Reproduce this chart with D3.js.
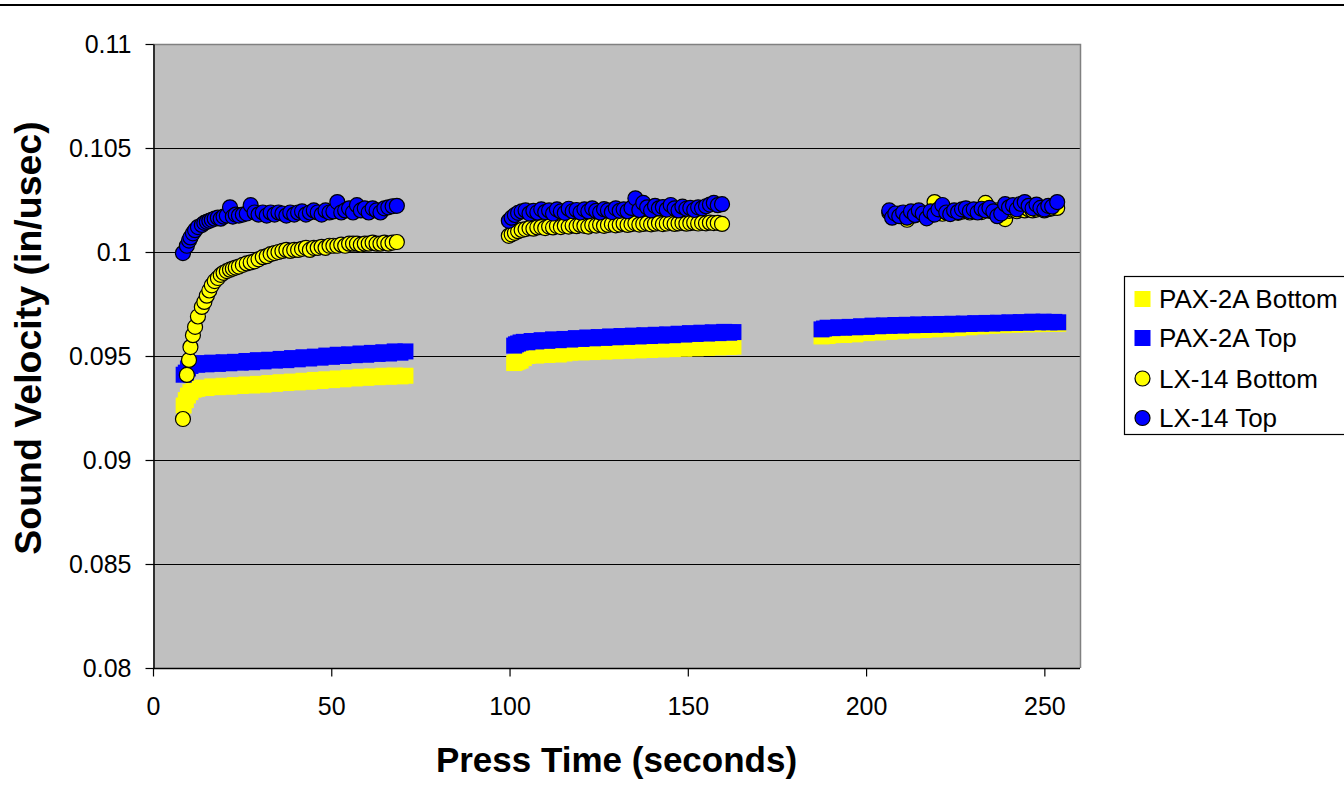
<!DOCTYPE html>
<html>
<head>
<meta charset="utf-8">
<script src="https://cdn.jsdelivr.net/npm/d3@7"></script>
<style>
  body { margin: 0; background: #fff; }
  svg { display: block; }
</style>
</head>
<body>
<div id="chart"></div>
<script>
// ---- data ----

// press times for the PAX-2A samples, three pressings
var tPax1 = [8.6, 9.2, 9.8, 10.5, 11.4, 12.4, 13.6, 15.0, 16.6, 18.2,
  19.8, 21.4, 23.0, 24.6, 26.2, 27.8, 29.4, 31.0, 32.6, 34.2,
  35.8, 37.4, 39.0, 40.6, 42.2, 43.8, 45.4, 47.0, 48.6, 50.2,
  51.8, 53.4, 55.0, 56.6, 58.2, 59.8, 61.4, 63.0, 64.6, 66.2,
  67.8, 69.4, 70.8];
var tPax2 = [101.3, 101.8, 102.4, 103.1, 104.0, 105.0, 106.2, 107.5, 109.0, 110.6,
  112.2, 113.8, 115.4, 117.0, 118.6, 120.2, 121.8, 123.4, 125.0, 126.6,
  128.2, 129.8, 131.4, 133.0, 134.6, 136.2, 137.8, 139.4, 141.0, 142.6,
  144.2, 145.8, 147.4, 149.0, 150.6, 152.2, 153.8, 155.4, 157.0, 158.6,
  160.2, 161.6, 162.8];
var tPax3 = [187.5, 188.2, 189.2, 190.6, 192.2, 193.8, 195.4, 197.0, 198.6, 200.2,
  201.8, 203.4, 205.0, 206.6, 208.2, 209.8, 211.4, 213.0, 214.6, 216.2,
  217.8, 219.4, 221.0, 222.6, 224.2, 225.8, 227.4, 229.0, 230.6, 232.2,
  233.8, 235.4, 237.0, 238.6, 240.2, 241.8, 243.4, 245.0, 246.6, 248.2,
  249.8, 251.4, 252.8, 253.9];

var paxBottom1 = [0.09262, 0.09288, 0.09310, 0.09326, 0.09338, 0.09342, 0.09348, 0.09346, 0.09354, 0.09350,
  0.09357, 0.09352, 0.09360, 0.09356, 0.09363, 0.09358, 0.09366, 0.09362, 0.09370, 0.09366,
  0.09374, 0.09370, 0.09377, 0.09373, 0.09381, 0.09376, 0.09385, 0.09380, 0.09388, 0.09384,
  0.09392, 0.09388, 0.09396, 0.09392, 0.09400, 0.09395, 0.09402, 0.09398, 0.09405, 0.09400,
  0.09406, 0.09402, 0.09405];
var paxTop1 = [0.09410, 0.09420, 0.09440, 0.09452, 0.09462, 0.09458, 0.09466, 0.09460, 0.09468, 0.09462,
  0.09470, 0.09465, 0.09472, 0.09468, 0.09476, 0.09470, 0.09480, 0.09474, 0.09482, 0.09478,
  0.09486, 0.09480, 0.09490, 0.09484, 0.09494, 0.09488, 0.09497, 0.09492, 0.09502, 0.09496,
  0.09506, 0.09500, 0.09508, 0.09504, 0.09512, 0.09506, 0.09515, 0.09510, 0.09518, 0.09512,
  0.09522, 0.09516, 0.09522];
var paxBottom2 = [0.09466, 0.09470, 0.09474, 0.09478, 0.09490, 0.09500, 0.09506, 0.09502, 0.09508, 0.09505,
  0.09510, 0.09507, 0.09512, 0.09516, 0.09520, 0.09517, 0.09522, 0.09519, 0.09524, 0.09521,
  0.09526, 0.09523, 0.09528, 0.09525, 0.09530, 0.09527, 0.09532, 0.09529, 0.09534, 0.09531,
  0.09536, 0.09533, 0.09538, 0.09535, 0.09540, 0.09537, 0.09542, 0.09539, 0.09544, 0.09541,
  0.09546, 0.09543, 0.09545];
var paxTop2 = [0.09550, 0.09556, 0.09560, 0.09565, 0.09568, 0.09566, 0.09572, 0.09570, 0.09576, 0.09573,
  0.09580, 0.09576, 0.09582, 0.09579, 0.09586, 0.09582, 0.09589, 0.09585, 0.09591, 0.09587,
  0.09594, 0.09590, 0.09596, 0.09592, 0.09598, 0.09594, 0.09600, 0.09596, 0.09602, 0.09598,
  0.09604, 0.09600, 0.09607, 0.09603, 0.09610, 0.09606, 0.09612, 0.09608, 0.09614, 0.09610,
  0.09616, 0.09612, 0.09615];
var paxBottom3 = [0.09594, 0.09598, 0.09596, 0.09600, 0.09603, 0.09601, 0.09606, 0.09604, 0.09612, 0.09610,
  0.09616, 0.09613, 0.09618, 0.09616, 0.09622, 0.09619, 0.09625, 0.09622, 0.09628, 0.09625,
  0.09631, 0.09628, 0.09634, 0.09631, 0.09637, 0.09634, 0.09640, 0.09638, 0.09644, 0.09642,
  0.09648, 0.09645, 0.09650, 0.09648, 0.09652, 0.09650, 0.09654, 0.09652, 0.09655, 0.09653,
  0.09656, 0.09654, 0.09656, 0.09655];
var paxTop3 = [0.09628, 0.09632, 0.09636, 0.09634, 0.09638, 0.09636, 0.09640, 0.09638, 0.09643, 0.09640,
  0.09646, 0.09643, 0.09647, 0.09645, 0.09649, 0.09646, 0.09650, 0.09648, 0.09652, 0.09649,
  0.09653, 0.09650, 0.09654, 0.09651, 0.09655, 0.09652, 0.09656, 0.09654, 0.09658, 0.09655,
  0.09659, 0.09656, 0.09660, 0.09658, 0.09662, 0.09659, 0.09663, 0.09660, 0.09665, 0.09662,
  0.09665, 0.09662, 0.09664, 0.09662];

// press times for the LX-14 samples
var tLx1 = [8.4, 9.5, 10.1, 10.5, 11.2, 11.8, 12.6, 13.7, 14.4, 15.1,
  15.8, 16.5, 17.3, 18.2, 19.0, 19.8, 20.7, 21.6, 22.4, 23.2,
  24.1, 25.2, 26.3, 27.4, 28.5, 29.6, 30.8, 31.9, 33.0, 34.1,
  35.2, 36.3, 37.4, 38.5, 39.6, 40.7, 41.8, 42.9, 44.0, 45.1,
  46.2, 47.3, 48.4, 49.5, 50.6, 51.7, 52.8, 53.9, 55.0, 56.1,
  57.2, 58.3, 59.4, 60.5, 61.6, 62.7, 63.8, 64.9, 66.0, 67.2,
  68.4];
var tLx2 = [99.8, 100.6, 101.5, 102.4, 103.4, 104.5, 105.6, 106.7, 107.8, 108.9,
  110.0, 111.1, 112.2, 113.3, 114.4, 115.5, 116.6, 117.7, 118.8, 119.9,
  121.0, 122.1, 123.2, 124.3, 125.4, 126.5, 127.6, 128.7, 129.8, 130.9,
  132.0, 133.1, 134.2, 135.3, 136.4, 137.5, 138.6, 139.7, 140.8, 141.9,
  143.0, 144.1, 145.2, 146.3, 147.4, 148.5, 149.6, 150.7, 151.8, 152.9,
  154.0, 155.1, 156.2, 157.3, 158.4, 159.6];
var tLx3 = [206.5, 207.3, 208.2, 209.3, 210.4, 211.5, 212.6, 213.7, 214.8, 215.9,
  217.0, 218.1, 219.2, 220.3, 221.4, 222.5, 223.6, 224.7, 225.8, 226.9,
  228.0, 229.1, 230.2, 231.3, 232.4, 233.5, 234.6, 235.7, 236.8, 237.9,
  239.0, 240.1, 241.2, 242.3, 243.4, 244.5, 245.6, 246.7, 247.8, 248.9,
  250.0, 251.1, 252.2, 253.6];

var lxBottom1 = [0.09197, 0.09409, 0.09481, 0.09543, 0.09600, 0.09640, 0.09690, 0.09736, 0.09760, 0.09790,
  0.09815, 0.09840, 0.09860, 0.09875, 0.09890, 0.09900, 0.09908, 0.09915, 0.09920, 0.09925,
  0.09930, 0.09938, 0.09945, 0.09950, 0.09955, 0.09965, 0.09975, 0.09980, 0.09990, 0.09995,
  0.10000, 0.10005, 0.10010, 0.10005, 0.10010, 0.10010, 0.10015, 0.10020, 0.10010, 0.10020,
  0.10020, 0.10025, 0.10020, 0.10030, 0.10030, 0.10030, 0.10035, 0.10030, 0.10040, 0.10040,
  0.10040, 0.10035, 0.10040, 0.10040, 0.10045, 0.10040, 0.10040, 0.10045, 0.10040, 0.10045,
  0.10048];
var lxTop1 = [0.09995, 0.10030, 0.10055, 0.10070, 0.10090, 0.10105, 0.10120, 0.10130, 0.10140, 0.10145,
  0.10150, 0.10155, 0.10160, 0.10165, 0.10160, 0.10170, 0.10175, 0.10215, 0.10170, 0.10180,
  0.10175, 0.10180, 0.10185, 0.10225, 0.10190, 0.10180, 0.10190, 0.10175, 0.10190, 0.10180,
  0.10190, 0.10185, 0.10175, 0.10190, 0.10180, 0.10190, 0.10195, 0.10180, 0.10190, 0.10200,
  0.10190, 0.10180, 0.10200, 0.10190, 0.10195, 0.10240, 0.10190, 0.10200, 0.10210, 0.10190,
  0.10225, 0.10200, 0.10210, 0.10190, 0.10210, 0.10200, 0.10190, 0.10210, 0.10215, 0.10220,
  0.10222];
var lxBottom2 = [0.10078, 0.10085, 0.10092, 0.10100, 0.10106, 0.10110, 0.10115, 0.10112, 0.10118, 0.10120,
  0.10115, 0.10122, 0.10118, 0.10125, 0.10120, 0.10126, 0.10122, 0.10128, 0.10124, 0.10130,
  0.10126, 0.10122, 0.10130, 0.10127, 0.10132, 0.10126, 0.10130, 0.10134, 0.10128, 0.10132,
  0.10136, 0.10130, 0.10134, 0.10138, 0.10132, 0.10135, 0.10138, 0.10133, 0.10136, 0.10139,
  0.10134, 0.10137, 0.10140, 0.10135, 0.10138, 0.10140, 0.10136, 0.10139, 0.10141, 0.10137,
  0.10140, 0.10138, 0.10141, 0.10139, 0.10140, 0.10135];
var lxTop2 = [0.10150, 0.10165, 0.10178, 0.10188, 0.10195, 0.10200, 0.10185, 0.10198, 0.10190, 0.10205,
  0.10192, 0.10200, 0.10185, 0.10205, 0.10195, 0.10188, 0.10208, 0.10196, 0.10202, 0.10190,
  0.10205, 0.10195, 0.10210, 0.10198, 0.10190, 0.10206, 0.10200, 0.10192, 0.10210, 0.10198,
  0.10205, 0.10196, 0.10212, 0.10258, 0.10202, 0.10236, 0.10215, 0.10200, 0.10222, 0.10210,
  0.10216, 0.10204, 0.10226, 0.10210, 0.10200, 0.10218, 0.10208, 0.10212, 0.10202, 0.10215,
  0.10210, 0.10220, 0.10228, 0.10236, 0.10225, 0.10230];
var lxBottom3 = [0.10190, 0.10180, 0.10175, 0.10185, 0.10178, 0.10155, 0.10182, 0.10176, 0.10188, 0.10180,
  0.10185, 0.10178, 0.10240, 0.10190, 0.10184, 0.10192, 0.10186, 0.10195, 0.10188, 0.10194,
  0.10198, 0.10190, 0.10196, 0.10200, 0.10192, 0.10236, 0.10198, 0.10194, 0.10200, 0.10196,
  0.10158, 0.10198, 0.10202, 0.10196, 0.10204, 0.10200, 0.10206, 0.10200, 0.10204, 0.10208,
  0.10200, 0.10206, 0.10210, 0.10212];
var lxTop3 = [0.10200, 0.10165, 0.10185, 0.10172, 0.10190, 0.10165, 0.10195, 0.10178, 0.10200, 0.10185,
  0.10162, 0.10195, 0.10180, 0.10205, 0.10226, 0.10190, 0.10182, 0.10200, 0.10192, 0.10205,
  0.10210, 0.10196, 0.10205, 0.10190, 0.10208, 0.10200, 0.10212, 0.10195, 0.10172, 0.10185,
  0.10230, 0.10215, 0.10225, 0.10205, 0.10232, 0.10240, 0.10222, 0.10210, 0.10228, 0.10212,
  0.10205, 0.10222, 0.10218, 0.10240];

var seriesNames = ['PAX-2A Bottom', 'PAX-2A Top', 'LX-14 Bottom', 'LX-14 Top'];
var seriesColors = ['#FFFF00', '#0000FF', '#FFFF00', '#0000FF'];
var seriesShapes = ['square', 'square', 'circle', 'circle'];

var xTicks = [0, 50, 100, 150, 200, 250];
var yTicks = [0.08, 0.085, 0.09, 0.095, 0.1, 0.105, 0.11];
var yTickLabels = ['0.08', '0.085', '0.09', '0.095', '0.1', '0.105', '0.11'];

// ---- layout ----
var width = 1344, height = 802;
var plot = { left: 153, right: 1080, top: 44, bottom: 668 };
var fontFamily = 'Liberation Sans, Arial, Helvetica, sans-serif';

// pair up times and values for each series (all three pressings)
function pairs(ts, vs) {
  return ts.map(function(t, i) { return { t: t, v: vs[i] }; });
}
var series = [
  pairs(tPax1, paxBottom1).concat(pairs(tPax2, paxBottom2), pairs(tPax3, paxBottom3)),
  pairs(tPax1, paxTop1).concat(pairs(tPax2, paxTop2), pairs(tPax3, paxTop3)),
  pairs(tLx1, lxBottom1).concat(pairs(tLx2, lxBottom2), pairs(tLx3, lxBottom3)),
  pairs(tLx1, lxTop1).concat(pairs(tLx2, lxTop2), pairs(tLx3, lxTop3))
];

var x = d3.scaleLinear().domain([0, 260]).range([plot.left, plot.right]);
var y = d3.scaleLinear().domain([0.08, 0.11]).range([plot.bottom, plot.top]);

var svg = d3.select('#chart').append('svg')
  .attr('width', width)
  .attr('height', height);

// rule across the very top of the page
svg.append('line')
  .attr('x1', 0).attr('x2', width)
  .attr('y1', 5).attr('y2', 5)
  .attr('stroke', '#000')
  .attr('stroke-width', 2);

// plot background
svg.append('rect')
  .attr('x', plot.left).attr('y', plot.top)
  .attr('width', plot.right - plot.left)
  .attr('height', plot.bottom - plot.top)
  .attr('fill', '#C0C0C0');

// horizontal gridlines
svg.append('g').attr('id', 'grid')
  .selectAll('line')
  .data(yTicks.slice(1, -1))
  .enter().append('line')
    .attr('x1', plot.left).attr('x2', plot.right)
    .attr('y1', function(d) { return Math.round(y(d)) + 0.5; })
    .attr('y2', function(d) { return Math.round(y(d)) + 0.5; })
    .attr('stroke', '#000')
    .attr('stroke-width', 1);

// top and right border of the plot area
svg.append('path')
  .attr('d', 'M' + plot.left + ',' + (plot.top + 0.5) + 'H' + (plot.right + 0.5) + 'V' + plot.bottom)
  .attr('fill', 'none')
  .attr('stroke', '#808080')
  .attr('stroke-width', 1.5);

// data markers, drawn in series order so later ones sit on top
var marks = svg.append('g').attr('id', 'marks');
series.forEach(function(data, i) {
  var g = marks.append('g').attr('class', 'series' + i);
  if (seriesShapes[i] === 'square') {
    var s = 16;
    g.selectAll('rect')
      .data(data)
      .enter().append('rect')
        .attr('x', function(d) { return x(d.t) - s / 2; })
        .attr('y', function(d) { return y(d.v) - s / 2; })
        .attr('width', s)
        .attr('height', s)
        .attr('fill', seriesColors[i]);
  } else {
    g.selectAll('circle')
      .data(data)
      .enter().append('circle')
        .attr('cx', function(d) { return x(d.t); })
        .attr('cy', function(d) { return y(d.v); })
        .attr('r', 7.5)
        .attr('fill', seriesColors[i])
        .attr('stroke', '#000')
        .attr('stroke-width', 1.2);
  }
});

// axes
var yAxis = svg.append('g').attr('id', 'yAxis')
  .attr('transform', 'translate(' + (plot.left + 0.5) + ',0)')
  .call(d3.axisLeft(y)
    .tickValues(yTicks)
    .tickFormat(function(d, i) { return yTickLabels[i]; })
    .tickSize(8).tickSizeOuter(0).tickPadding(14));

var xAxis = svg.append('g').attr('id', 'xAxis')
  .attr('transform', 'translate(0,' + (plot.bottom + 0.5) + ')')
  .call(d3.axisBottom(x)
    .tickValues(xTicks)
    .tickSize(8).tickSizeOuter(0).tickPadding(21));

[yAxis, xAxis].forEach(function(a) {
  a.select('.domain').attr('stroke', '#000').attr('stroke-width', 1.5);
  a.selectAll('.tick line').attr('stroke', '#000').attr('stroke-width', 1.2);
  a.selectAll('.tick text')
    .attr('fill', '#000')
    .attr('font-size', 25)
    .attr('font-family', fontFamily);
});
xAxis.select('.domain').attr('d', 'M' + plot.left + ',0H' + plot.right);

// axis titles
svg.append('text').attr('id', 'xTitle')
  .attr('x', (plot.left + plot.right) / 2)
  .attr('y', 772)
  .attr('text-anchor', 'middle')
  .attr('font-size', 35)
  .attr('font-weight', 'bold')
  .attr('font-family', fontFamily)
  .text('Press Time (seconds)');

svg.append('text').attr('id', 'yTitle')
  .attr('transform', 'translate(41,338) rotate(-90)')
  .attr('text-anchor', 'middle')
  .attr('font-size', 37.5)
  .attr('font-weight', 'bold')
  .attr('font-family', fontFamily)
  .text('Sound Velocity (in/usec)');

// legend (runs off the right edge like the original)
var legend = svg.append('g').attr('id', 'legend')
  .attr('transform', 'translate(1124.5,276.5)');
legend.append('rect')
  .attr('width', 260)
  .attr('height', 158)
  .attr('fill', '#fff')
  .attr('stroke', '#000')
  .attr('stroke-width', 1.2);

var rowY = [22.5, 61.5, 102, 141.5];
seriesNames.forEach(function(name, i) {
  var row = legend.append('g').attr('transform', 'translate(18,' + rowY[i] + ')');
  if (seriesShapes[i] === 'square') {
    row.append('rect')
      .attr('x', -8).attr('y', -8)
      .attr('width', 16).attr('height', 16)
      .attr('fill', seriesColors[i]);
  } else {
    row.append('circle')
      .attr('r', 7.5)
      .attr('fill', seriesColors[i])
      .attr('stroke', '#000')
      .attr('stroke-width', 1.2);
  }
  row.append('text')
    .attr('x', 16.5)
    .attr('y', 9)
    .attr('font-size', 26)
    .attr('font-family', fontFamily)
    .attr('fill', '#000')
    .text(name);
});
</script>
</body>
</html>
